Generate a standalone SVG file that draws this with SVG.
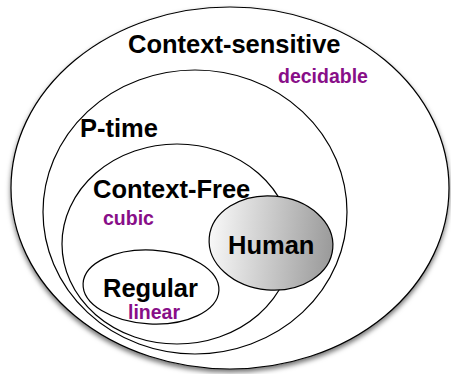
<svg xmlns="http://www.w3.org/2000/svg" width="451" height="374" viewBox="0 0 451 374">
<style>
.ring{fill:none;stroke:#000;stroke-width:1.2}
.lbl{font-family:"Liberation Sans",Arial,sans-serif;font-weight:bold;font-size:25.5px;fill:#000}
.sub{font-family:"Liberation Sans",Arial,sans-serif;font-weight:bold;font-size:19.5px;fill:#880e88}
</style>
<defs>
<filter id="sh" x="-10%" y="-10%" width="120%" height="125%">
<feDropShadow dx="0" dy="3" stdDeviation="2.5" flood-color="#000" flood-opacity="0.55"/>
</filter>
<linearGradient id="hg" x1="0" y1="0" x2="1" y2="0">
<stop offset="0" stop-color="#f8f8f8"/>
<stop offset="1" stop-color="#9a9a9a"/>
</linearGradient>
</defs>
<rect width="451" height="374" fill="#fff"/>
<g id="context-sensitive">
<ellipse cx="230" cy="188" rx="219" ry="181" fill="#fff" stroke="#000" stroke-width="1.2" filter="url(#sh)"/>
<text class="lbl" x="128" y="53">Context-sensitive</text>
<text class="sub" x="278" y="83">decidable</text>
</g>
<g id="p-time">
<ellipse class="ring" cx="195" cy="212" rx="152" ry="142"/>
<text class="lbl" x="80" y="137">P-time</text>
</g>
<g id="context-free">
<ellipse class="ring" cx="177" cy="244" rx="115" ry="100"/>
<text class="lbl" x="93" y="198">Context-Free</text>
<text class="sub" x="103" y="225">cubic</text>
</g>
<g id="regular">
<ellipse class="ring" cx="151" cy="287" rx="68" ry="37" transform="rotate(3 151 287)"/>
<text class="lbl" x="103" y="297">Regular</text>
<text class="sub" x="128" y="319">linear</text>
</g>
<g id="human">
<ellipse cx="271" cy="243" rx="62" ry="47" fill="url(#hg)" stroke="#000" stroke-width="1.2" transform="rotate(5 271 243)"/>
<text class="lbl" x="228" y="254">Human</text>
</g>
<g id="connectors"/>
</svg>
